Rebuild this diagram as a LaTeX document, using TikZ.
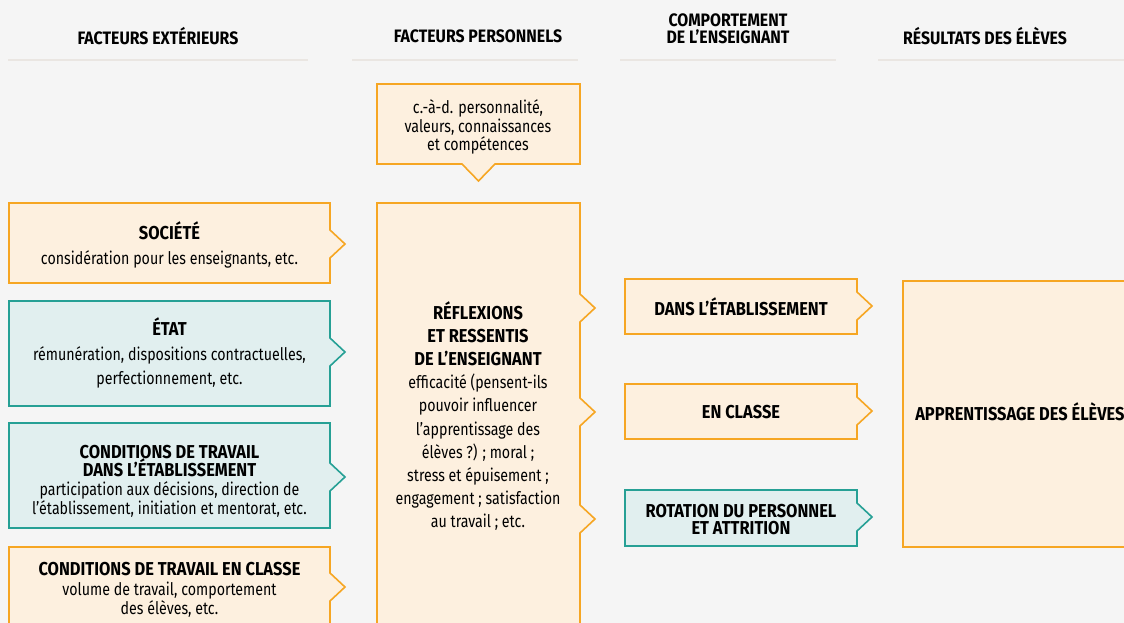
\documentclass[tikz,border=0pt]{standalone}
\usepackage{fontspec}
\setmainfont{Fira Sans}[FakeStretch=0.82]
\newfontfamily\titf{Fira Sans}[FakeStretch=0.88]
\newcommand\tb[1]{{\titf\bfseries\fontsize{14}{14}\selectfont #1}}
\definecolor{bgcol}{HTML}{F5F5F5}
\definecolor{ocol}{HTML}{F6A623}
\definecolor{ofill}{HTML}{FDF0DF}
\definecolor{tcol}{HTML}{26A095}
\definecolor{tfill}{HTML}{E1EFEF}
\definecolor{hline}{HTML}{EAE6E2}
\newcommand\rarrowbox[6]{%
  \path[#1] (#2,#3) -- (#4,#3) -- (#4,{#6-14}) -- ({#4+15},#6) -- (#4,{#6+14}) -- (#4,#5) -- (#2,#5) -- cycle;}
\begin{document}
\begin{tikzpicture}[x=0.75pt,y=-0.75pt,
  obox/.style={draw=ocol,fill=ofill,line width=1.2pt,line join=miter},
  tbox/.style={draw=tcol,fill=tfill,line width=1.2pt,line join=miter},
  hdr/.style={font=\titf\bfseries\fontsize{13.5}{13.5}\selectfont,align=center,inner sep=0pt},
  ttl/.style={align=center,inner sep=0pt},
  mid/.style={align=center,inner sep=0pt,font=\titf\bfseries\fontsize{14}{12.75}\selectfont},
  hrule/.style={draw=hline,line width=2.2pt}]
\useasboundingbox (0,0) rectangle (1124,623);
\fill[bgcol] (0,0) rectangle (1124,623);
\begin{scope}
\clip (0,0) rectangle (1124,623);
% header rules
\draw[hrule] (8,60) -- (308,60);
\draw[hrule] (352,60) -- (578,60);
\draw[hrule] (620,60) -- (836,60);
\draw[hrule] (878,60) -- (1130,60);
% headers
\node[hdr] (h1) at (158,36) {FACTEURS EXTÉRIEURS};
\node[hdr] (h2) at (478,36) {FACTEURS PERSONNELS};
\node[hdr,font=\titf\bfseries\fontsize{13.5}{12.75}\selectfont] (h3) at (728,29) {COMPORTEMENT\\DE L’ENSEIGNANT};
\node[hdr] (h4) at (985,36) {RÉSULTATS DES ÉLÈVES};
% left column
\rarrowbox{obox}{9}{203}{330}{283}{244}
\rarrowbox{tbox}{9}{301}{330}{406}{352}
\rarrowbox{tbox}{9}{423}{330}{528}{477}
\rarrowbox{obox}{9}{547}{330}{640}{587}
\node[ttl,font=\fontsize{13}{18.75}\selectfont] (soc) at (169.5,245) {\tb{SOCIÉTÉ}\\considération pour les enseignants, etc.};
\node[ttl,font=\fontsize{13}{18.4}\selectfont] (etat) at (169.5,353) {\tb{ÉTAT}\\rémunération, dispositions contractuelles,\\perfectionnement, etc.};
\node[ttl,font=\fontsize{13}{14}\selectfont] (cte) at (169.5,481) {\tb{CONDITIONS DE TRAVAIL}\\\tb{DANS L’ÉTABLISSEMENT}\\participation aux décisions, direction de\\l’établissement, initiation et mentorat, etc.};
\node[ttl,font=\fontsize{13}{14.6}\selectfont] (ctc) at (169.5,590) {\tb{CONDITIONS DE TRAVAIL EN CLASSE}\\volume de travail, comportement\\des élèves, etc.};
% personal column
\path[obox] (377,84) -- (580,84) -- (580,164) -- (495,164) -- (478.5,181) -- (462,164) -- (377,164) -- cycle;
\node[ttl,font=\fontsize{13}{12.4}\selectfont] (pers) at (478,127) {c.-à-d. personnalité,\\valeurs, connaissances\\et compétences};
\path[obox] (377,203) -- (580,203) -- (580,294) -- (595,308) -- (580,322) -- (580,398) -- (595,412) -- (580,426) -- (580,505) -- (595,519) -- (580,533) -- (580,640) -- (377,640) -- cycle;
\node[ttl,font=\fontsize{13}{17.3}\selectfont] (refl) at (478,416) {\tb{RÉFLEXIONS}\\\tb{ET RESSENTIS}\\\tb{DE L’ENSEIGNANT}\\efficacité (pensent-ils\\pouvoir influencer\\l’apprentissage des\\élèves~?) ; moral ;\\stress et épuisement ;\\engagement ; satisfaction\\au travail ; etc.};
% behaviour column
\rarrowbox{obox}{625}{279}{857}{334}{306}
\rarrowbox{obox}{625}{384}{857}{439}{411}
\rarrowbox{tbox}{625}{490}{857}{546}{517}
\node[mid] (etab) at (741,307) {DANS L’ÉTABLISSEMENT};
\node[mid] (classe) at (741,412) {EN CLASSE};
\node[mid] (rot) at (741,520) {ROTATION DU PERSONNEL\\ET ATTRITION};
% results column
\path[obox] (903,281) rectangle (1140,547);
\node[mid,anchor=west] (app) at (915,412) {APPRENTISSAGE DES ÉLÈVES};
\end{scope}
\end{tikzpicture}
\end{document}
